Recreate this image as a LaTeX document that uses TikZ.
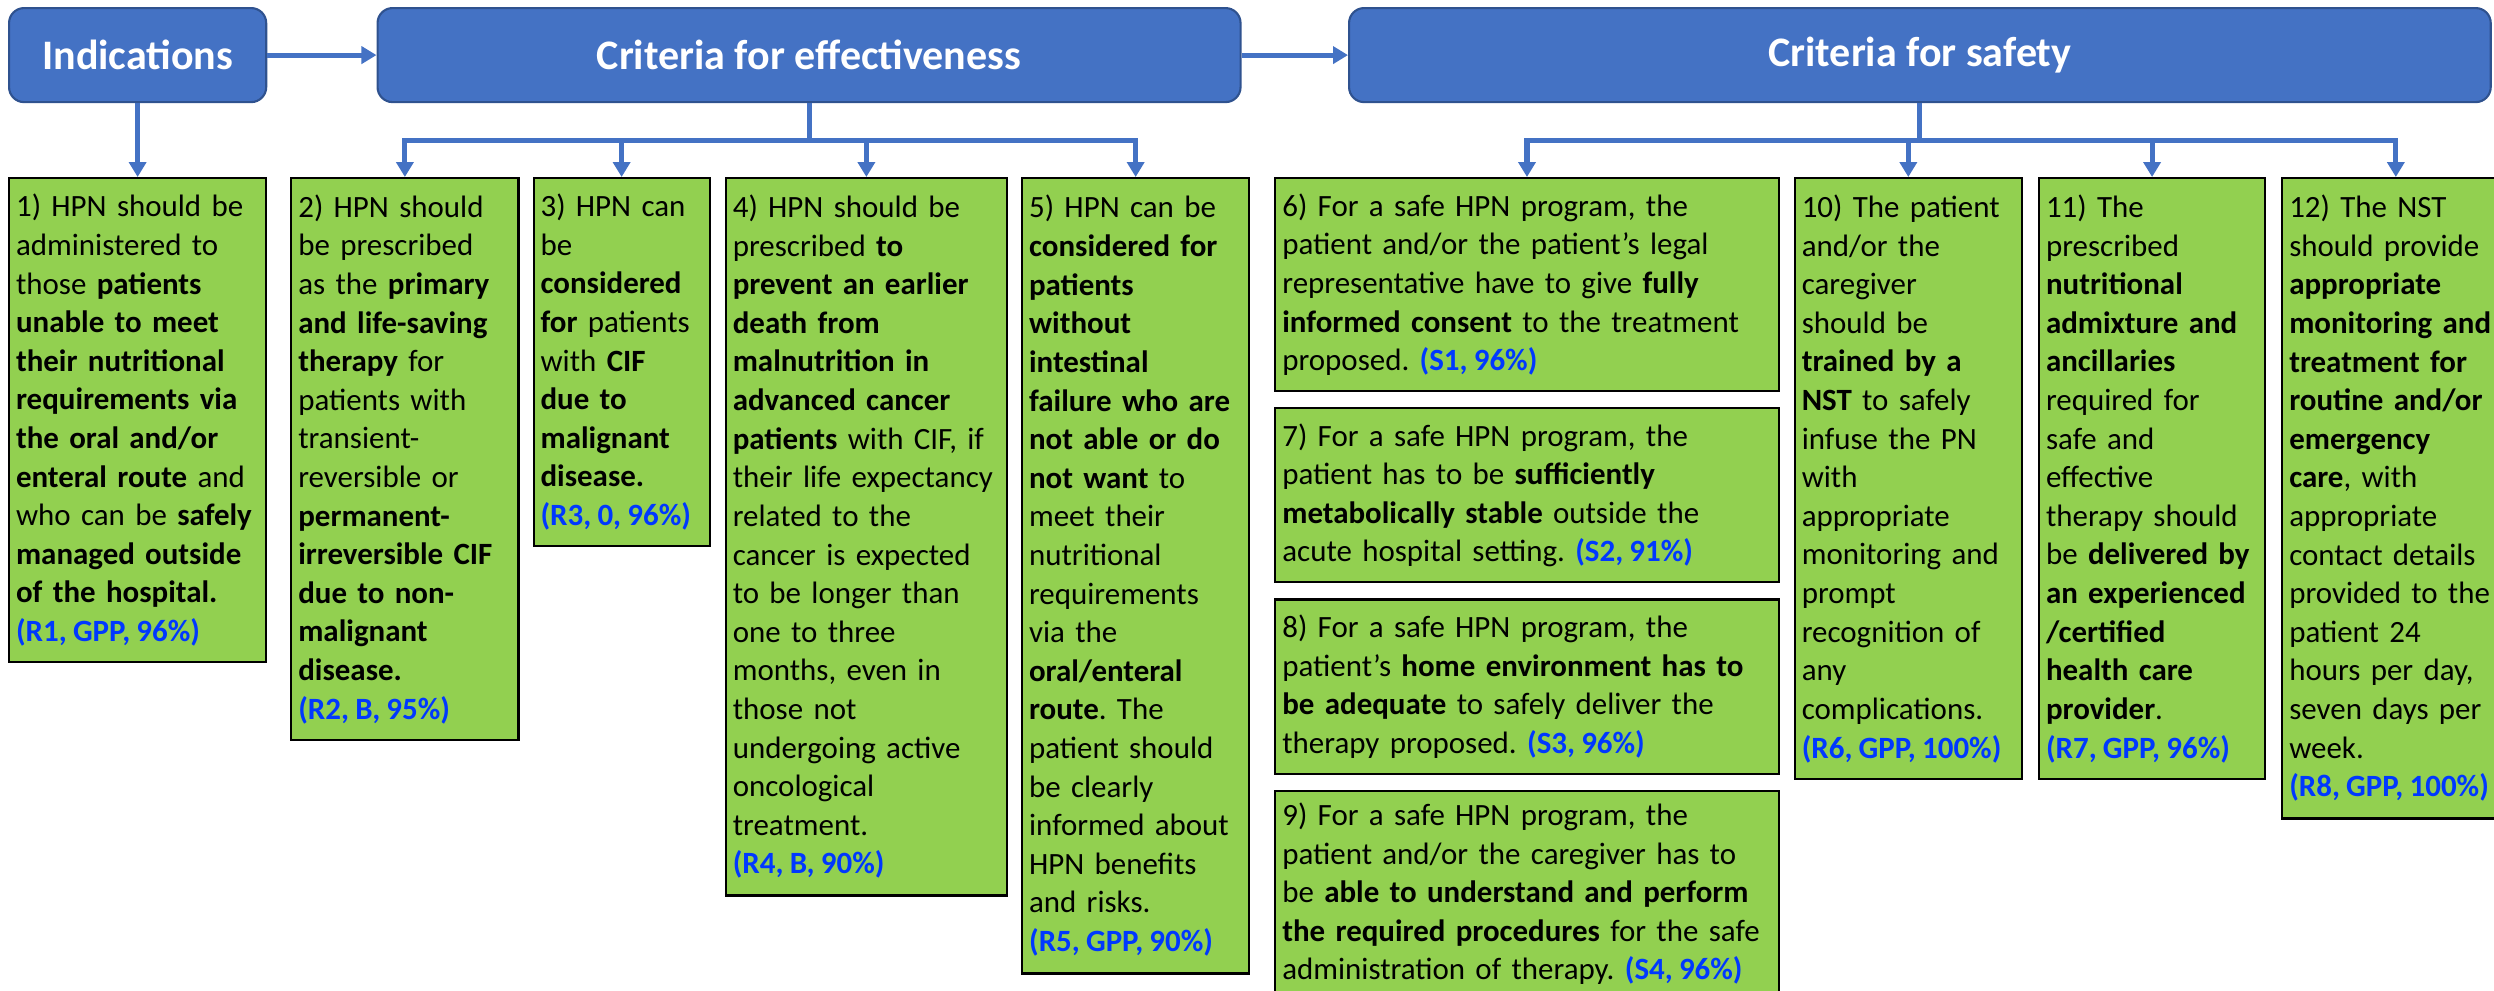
\documentclass[tikz,border=0pt]{standalone}
\usepackage{fontspec}
\setmainfont{Carlito}
\usepackage{xcolor}
\usepackage{tikz}
\usetikzlibrary{positioning, arrows.meta}
\definecolor{hpnblue}{RGB}{68,114,196}
\definecolor{hpnedge}{RGB}{47,82,143}
\definecolor{hpngreen}{RGB}{146,208,80}
\definecolor{gradeblue}{RGB}{0,56,255}
\newcommand{\grade}[1]{\mbox{\bfseries\spaceskip=0.2em\color{gradeblue}#1}}
\frenchspacing

\begin{document}
\begin{tikzpicture}[
      x=0.01cm, y=-0.01cm,
      header/.style = {draw=hpnedge, line width=0.6pt, fill=hpnblue, rounded corners=0.15cm,
                       text=white, font=\fontsize{11.95}{14}\selectfont\bfseries,
                       minimum height=0.94cm, inner sep=0pt, anchor=north west},
      rec/.style = {draw=black, line width=0.6pt, fill=hpngreen, align=left,
                    inner xsep=0.07cm, inner ysep=0pt, anchor=north west,
                    font=\fontsize{8.8}{10.98}\selectfont},
      arr/.style = {-{Triangle[length=0.15cm, width=0.17cm]}, line width=1.45pt, draw=hpnblue}
    ]
    \useasboundingbox (0,0) rectangle (2494,990);
    \node[header, minimum width=2.57cm]  (ind) at (8,7)     {Indications};
    \node[header, minimum width=8.625cm] (eff) at (376.5,7) {Criteria for effectiveness};
    \node[header, minimum width=11.41cm] (saf) at (1348,7)  {Criteria for safety};

    \node[rec, text width=2.43cm, minimum height=4.84cm] (b1) at (8,177)
      {1) HPN should be\\ administered to\\ those \textbf{patients}\\ \textbf{unable to meet}\\
       \textbf{their nutritional}\\ \textbf{requirements via}\\ \textbf{the oral and/or}\\
       \textbf{enteral route} and\\ who can be \textbf{safely}\\ \textbf{managed outside}\\
       \textbf{of the hospital.}\\ \grade{(R1, GPP, 96\%)}};
    \node[rec, text width=2.13cm, minimum height=5.62cm, right=0.23cm of b1.north east, anchor=north west] (b2)
      {2) HPN should\\ be prescribed\\ as the \textbf{primary}\\ \textbf{and life-saving}\\
       \textbf{therapy} for\\ patients with\\ transient-\\ reversible or\\ \textbf{permanent-}\\
       \textbf{irreversible CIF}\\ \textbf{due to non-}\\ \textbf{malignant}\\ \textbf{disease.}\\
       \grade{(R2, B, 95\%)}};
    \node[rec, text width=1.62cm, minimum height=3.68cm, right=0.13cm of b2.north east, anchor=north west] (b3)
      {3) HPN can\\ be\\ \textbf{considered}\\ \textbf{for} patients\\ with \textbf{CIF}\\
       \textbf{due to}\\ \textbf{malignant}\\ \textbf{disease.}\\ \grade{(R3, 0, 96\%)}};
    \node[rec, text width=2.67cm, minimum height=7.17cm, right=0.14cm of b3.north east, anchor=north west] (b4)
      {4) HPN should be\\ prescribed \textbf{to}\\ \textbf{prevent an earlier}\\ \textbf{death from}\\
       \textbf{malnutrition in}\\ \textbf{advanced cancer}\\ \textbf{patients} with CIF, if\\
       their life expectancy\\ related to the\\ cancer is expected\\ to be longer than\\
       one to three\\ months, even in\\ those not\\ undergoing active\\ oncological\\
       treatment.\\ \grade{(R4, B, 90\%)}};
    \node[rec, text width=2.13cm, minimum height=7.95cm, right=0.13cm of b4.north east, anchor=north west] (b5)
      {5) HPN can be\\ \textbf{considered for}\\ \textbf{patients}\\ \textbf{without}\\ \textbf{intestinal}\\
       \textbf{failure who are}\\ \textbf{not able or do}\\ \textbf{not want} to\\ meet their\\
       nutritional\\ requirements\\ via the\\ \textbf{oral/enteral}\\ \textbf{route}. The\\
       patient should\\ be clearly\\ informed about\\ HPN benefits\\ and risks.\\
       \grade{(R5, GPP, 90\%)}};
    \node[rec, text width=4.89cm, minimum height=2.13cm, right=0.24cm of b5.north east, anchor=north west] (b6)
      {6) For a safe HPN program, the\\ patient and/or the patient’s legal\\
       representative have to give \textbf{fully}\\ \textbf{informed consent} to the treatment\\
       proposed. \grade{(S1, 96\%)}};
    \node[rec, text width=4.89cm, minimum height=1.74cm, below=0.15cm of b6.south west, anchor=north west] (b7)
      {7) For a safe HPN program, the\\ patient has to be \textbf{sufficiently}\\
       \textbf{metabolically stable} outside the\\ acute hospital setting. \grade{(S2, 91\%)}};
    \node[rec, text width=4.89cm, minimum height=1.74cm, below=0.15cm of b7.south west, anchor=north west] (b8)
      {8) For a safe HPN program, the\\ patient’s \textbf{home environment has to}\\
       \textbf{be adequate} to safely deliver the\\ therapy proposed. \grade{(S3, 96\%)}};
    \node[rec, text width=4.89cm, minimum height=2.06cm, below=0.15cm of b8.south west, anchor=north west] (b9)
      {9) For a safe HPN program, the\\ patient and/or the caregiver has to\\
       be \textbf{able to understand and perform}\\ \textbf{the required procedures} for the safe\\
       administration of therapy. \grade{(S4, 96\%)}};
    \node[rec, text width=2.13cm, minimum height=6.01cm, right=0.14cm of b6.north east, anchor=north west] (b10)
      {10) The patient\\ and/or the\\ caregiver\\ should be\\ \textbf{trained by a}\\
       \textbf{NST} to safely\\ infuse the PN\\ with\\ appropriate\\ monitoring and\\ prompt\\
       recognition of\\ any\\ complications.\\ \grade{(R6, GPP, 100\%)}};
    \node[rec, text width=2.12cm, minimum height=6.01cm, right=0.15cm of b10.north east, anchor=north west] (b11)
      {11) The\\ prescribed\\ \textbf{nutritional}\\ \textbf{admixture and}\\ \textbf{ancillaries}\\
       required for\\ safe and\\ effective\\ therapy should\\ be \textbf{delivered by}\\
       \textbf{an experienced}\\ \textbf{/certified}\\ \textbf{health care}\\ \textbf{provider}.\\
       \grade{(R7, GPP, 96\%)}};
    \node[rec, text width=2.13cm, minimum height=6.40cm, right=0.15cm of b11.north east, anchor=north west] (b12)
      {12) The NST\\ should provide\\ \textbf{appropriate}\\ \textbf{monitoring and}\\
       \textbf{treatment for}\\ \textbf{routine and/or}\\ \textbf{emergency}\\ \textbf{care}, with\\
       appropriate\\ contact details\\ provided to the\\ patient 24\\ hours per day,\\
       seven days per\\ week.\\ \grade{(R8, GPP, 100\%)}};

    \coordinate (ebus) at ([yshift=-0.37cm]eff.south);
    \coordinate (sbus) at ([yshift=-0.37cm]saf.south);
    \draw[arr] (ind) -- (eff);
    \draw[arr] (eff) -- (saf);
    \draw[arr] (ind.south) -- (b1.north);
    \foreach \b in {b2,b3,b4,b5}
      \draw[arr] (eff.south) -- (ebus) -| (\b.north);
    \foreach \b in {b6,b10,b11,b12}
      \draw[arr] (saf.south) -- (sbus) -| (\b.north);
  \end{tikzpicture}
\end{document}
